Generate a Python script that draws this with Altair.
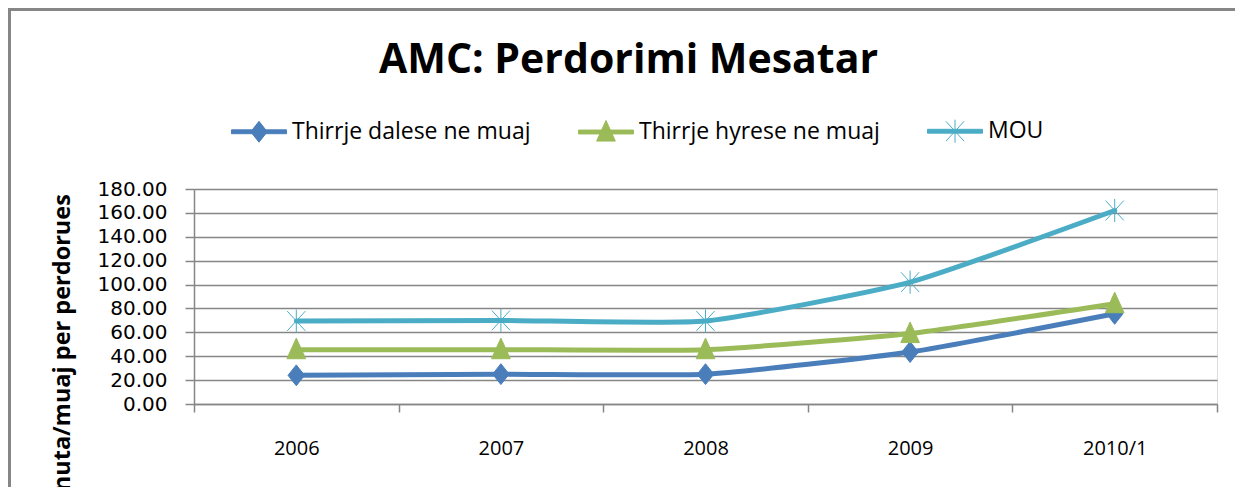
import altair as alt
import pandas as pd

years = ["2006", "2007", "2008", "2009", "2010/1"]
series = ["Thirrje dalese ne muaj", "Thirrje hyrese ne muaj", "MOU"]
dalese = [24.0, 25.0, 25.0, 43.5, 75.5]
hyrese = [45.5, 45.5, 45.5, 59.0, 84.0]
mou = [69.5, 70.0, 69.5, 102.0, 162.0]
y_ticks = [0, 20, 40, 60, 80, 100, 120, 140, 160, 180]

colors = ["#4A7EBB", "#9BBB59", "#4BACC6"]
# marker paths (unit = sqrt(size)/2)
markers = [
    "M0,-0.38L0.3,0L0,0.38L-0.3,0Z",
    "M0,-0.42L0.34,0.33L-0.34,0.33Z",
    "M-0.33,-0.36L0.33,0.36M-0.33,0.36L0.33,-0.36M0,-0.42L0,0.42",
]
# legend symbols: a short line with the marker on it
bar = "M-1,-0.07L1,-0.07L1,0.07L-1,0.07Z "
legend_symbols = [bar + m for m in markers]

rows = []
for name, vals in zip(series, [dalese, hyrese, mou]):
    for yr, v in zip(years, vals):
        rows.append({"year": yr, "series": name, "value": v})
df = pd.DataFrame(rows)

GRID = "#868686"
SYM = 3025

x_enc = alt.X(
    "year:N",
    sort=years,
    scale=alt.Scale(paddingInner=0, paddingOuter=0),
    axis=alt.Axis(
        title=None,
        tickBand="extent",
        tickSize=8,
        tickColor=GRID,
        tickWidth=1.5,
        domainColor=GRID,
        domainWidth=1.5,
        labelAngle=0,
        labelPadding=26,
        labelFont="Open Sans",
        labelFontSize=20,
        labelColor="#000000",
        grid=False,
    ),
)
y_enc = alt.Y(
    "value:Q",
    scale=alt.Scale(domain=[0, 180], nice=False),
    axis=alt.Axis(
        values=y_ticks,
        format=".2f",
        labelOverlap=False,
        grid=True,
        gridColor=GRID,
        gridWidth=1.5,
        tickSize=9,
        tickColor=GRID,
        tickWidth=1.5,
        domainColor=GRID,
        domainWidth=1.5,
        labelFont="DejaVu Sans",
        labelFontSize=20,
        labelColor="#000000",
        labelPadding=18,
        title="Minuta/muaj per perdorues",
        titleFont="Open Sans",
        titleFontSize=23.5,
        titleFontWeight="bold",
        titleColor="#000000",
        titleAngle=270,
        titleAlign="left",
        titleBaseline="middle",
        titleX=-132,
        titleY=331,
    ),
)

lines = alt.Chart(df).mark_line(
    strokeWidth=5, interpolate="cardinal", tension=0.5, strokeCap="round"
).encode(
    x=x_enc,
    y=y_enc,
    color=alt.Color("series:N", sort=series, scale=alt.Scale(domain=series, range=colors), legend=None),
)

points = alt.Chart(df).mark_point(size=SYM, filled=True, opacity=1, strokeWidth=1).encode(
    x=x_enc,
    y=y_enc,
    shape=alt.Shape("series:N", sort=series, scale=alt.Scale(domain=series, range=markers), legend=None),
    fill=alt.Fill("series:N", sort=series, scale=alt.Scale(domain=series, range=colors), legend=None),
    stroke=alt.Stroke("series:N", sort=series, scale=alt.Scale(domain=series, range=colors), legend=None),
)

leg = alt.Legend(
    title=None,
    orient="none",
    direction="horizontal",
    legendX=37,
    legendY=-86,
    symbolSize=SYM,
    symbolStrokeWidth=1,
    symbolOpacity=1,
    labelFont="Open Sans",
    labelFontSize=23,
    labelColor="#000000",
    labelLimit=0,
    labelOffset=5,
    columnPadding=45,
)
legend_layer = alt.Chart(df).transform_filter("false").mark_point(
    size=SYM, filled=True, opacity=1, strokeWidth=1
).encode(
    x=x_enc,
    y=y_enc,
    shape=alt.Shape("series:N", sort=series, scale=alt.Scale(domain=series, range=legend_symbols), legend=leg),
    fill=alt.Fill("series:N", sort=series, scale=alt.Scale(domain=series, range=colors), legend=leg),
    stroke=alt.Stroke("series:N", sort=series, scale=alt.Scale(domain=series, range=colors), legend=leg),
)

border_top = alt.Chart(df).mark_rule(color=GRID, strokeWidth=3).encode(
    x=alt.value(-186), x2=alt.value(1050), y=alt.value(-179.5)
)
border_left = alt.Chart(df).mark_rule(color=GRID, strokeWidth=3).encode(
    x=alt.value(-184.5), y=alt.value(-181), y2=alt.value(300)
)

chart = (
    alt.layer(border_top, border_left, lines, points, legend_layer)
    .resolve_scale(shape="independent", fill="independent", stroke="independent")
    .properties(
        width=1023,
        height=215,
        autosize=alt.AutoSizeParams(type="none"),
        padding={"left": 186, "top": 181, "right": 18, "bottom": 83},
        title=alt.TitleParams(
            "AMC: Perdorimi Mesatar",
            font="Open Sans",
            fontSize=41,
            fontWeight="bold",
            color="#000000",
            anchor="middle",
            frame="group",
            baseline="alphabetic",
            dx=-77,
            offset=-107,
        ),
    )
    .configure_view(stroke=None)
    .configure(background="white")
)

chart.save("out.html", embed_options={"renderer": "svg", "actions": False})
